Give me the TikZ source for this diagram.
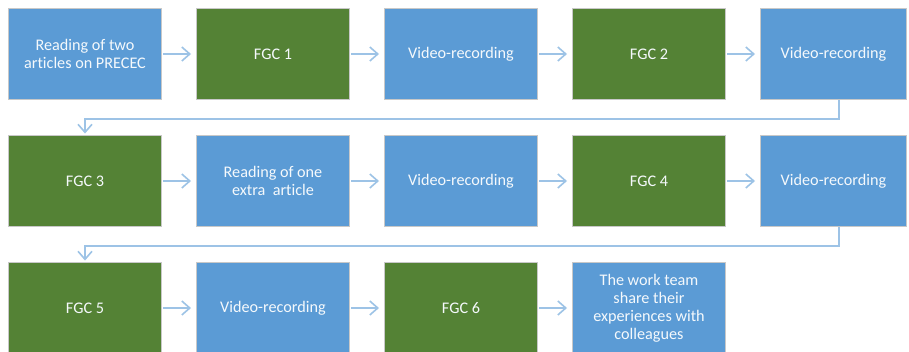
\documentclass[tikz,border=0pt]{standalone}
\usepackage{fontspec}
\setmainfont[Ligatures={NoCommon}]{Carlito}
\usetikzlibrary{arrows.meta}
\definecolor{stepblue}{HTML}{5B9BD5}
\definecolor{stepgreen}{HTML}{548235}
\definecolor{edgegray}{HTML}{C8C8C8}
\definecolor{linkblue}{HTML}{9DC3E6}
\tikzset{
  stepbox/.style={anchor=north west, minimum width=153pt, minimum height=91pt,
    inner sep=2pt, draw=edgegray, line width=1pt, text=white!94!stepblue, align=center,
    font=\fontsize{16.2}{18}\selectfont},
  bluebox/.style={stepbox, fill=stepblue},
  greenbox/.style={stepbox, fill=stepgreen},
  lastcol/.style={minimum width=146pt},
  flow/.style={draw=linkblue, line width=2pt,
    -{Straight Barb[length=8pt,width=14pt,line width=1.6pt]}},
  hop/.style={flow, shorten <=1pt, shorten >=5pt},
}
\begin{document}
\begin{tikzpicture}[x=1pt,y=-1pt]
  \useasboundingbox (0,0) rectangle (909,351);
  \clip (0,0) rectangle (909,351);
  \fill[white] (0,0) rectangle (909,351);

  % first row
  \node[bluebox]  (r1) at (8,8)   {Reading of two\\articles on PRECEC};
  \node[greenbox] (f1) at (196,8) {FGC 1};
  \node[bluebox]  (v1) at (384,8) {Video-recording};
  \node[greenbox] (f2) at (572,8) {FGC 2};
  \node[bluebox, lastcol] (v2) at (760,8) {Video-recording};

  % second row
  \node[greenbox] (f3) at (8,135)   {FGC 3};
  \node[bluebox]  (r2) at (196,135) {Reading of one\\extra\ \ article};
  \node[bluebox]  (v3) at (384,135) {Video-recording};
  \node[greenbox] (f4) at (572,135) {FGC 4};
  \node[bluebox, lastcol] (v4) at (760,135) {Video-recording};

  % third row
  \node[greenbox] (f5) at (8,262)   {FGC 5};
  \node[bluebox]  (v5) at (196,262) {Video-recording};
  \node[greenbox] (f6) at (384,262) {FGC 6};
  \node[bluebox]  (tw) at (572,262) {The work team\\share their\\experiences with\\colleagues};

  % arrows along each row
  \draw[hop] (r1) -- (f1);
  \draw[hop] (f1) -- (v1);
  \draw[hop] (v1) -- (f2);
  \draw[hop] (f2) -- (v2);
  \draw[hop] (f3) -- (r2);
  \draw[hop] (r2) -- (v3);
  \draw[hop] (v3) -- (f4);
  \draw[hop] (f4) -- (v4);
  \draw[hop] (f5) -- (v5);
  \draw[hop] (v5) -- (f6);
  \draw[hop] (f6) -- (tw);

  % returns to the start of the next row
  \draw[flow, shorten >=1.5pt] ([xshift=5pt]v2.south) -- ++(0,19) -| (f3.north);
  \draw[flow, shorten >=1.5pt] ([xshift=5pt]v4.south) -- ++(0,19) -| (f5.north);
\end{tikzpicture}
\end{document}
